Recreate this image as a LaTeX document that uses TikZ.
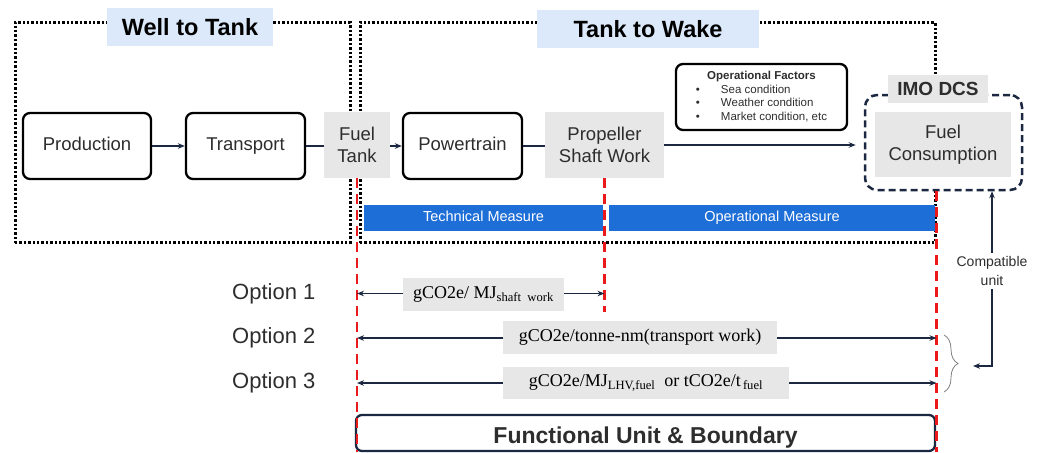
\documentclass[tikz,border=0pt]{standalone}
\usepackage{fontspec}
\setmainfont{Liberation Sans}
\newfontfamily\tms{Liberation Serif}
\usetikzlibrary{arrows.meta,decorations.pathreplacing}

\definecolor{labelblue}{RGB}{219,233,250}
\definecolor{panelgrey}{RGB}{231,231,231}
\definecolor{barblue}{RGB}{30,110,215}
\definecolor{navy}{RGB}{28,40,66}
\definecolor{cutred}{RGB}{235,25,25}
\definecolor{textgrey}{RGB}{45,45,45}

\begin{document}
\begin{tikzpicture}[x=1pt,y=-1pt,
  zonebox/.style={draw=black, line width=3pt, dash pattern=on 2.4pt off 2pt, inner sep=0pt},
  stagelabel/.style={fill=labelblue, font=\bfseries\fontsize{23.5}{26}\selectfont, minimum height=38pt, inner sep=0pt},
  procbox/.style={draw=black, line width=2.3pt, rounded corners=7pt, minimum height=66pt, align=center,
                  font=\fontsize{18.5}{22}\selectfont, text=textgrey, inner sep=0pt,
                  text height=13.5pt, text depth=4pt},
  greybox/.style={fill=panelgrey, align=center, inner sep=0pt, font=\fontsize{18.5}{22}\selectfont, text=textgrey},
  link/.style={draw=navy, line width=1.2pt},
  arr/.style={link, -{Stealth[length=7pt,width=5.5pt]}},
  biarr/.style={link, {Stealth[length=7pt,width=5.5pt]}-{Stealth[length=7pt,width=5.5pt]}},
  cut/.style={draw=cutred, line width=2.6pt, dash pattern=on 10pt off 6pt},
  measure/.style={fill=barblue, text=white, font=\fontsize{14.5}{16}\selectfont, minimum height=26pt, inner sep=0pt,
                  text height=10.5pt, text depth=3pt},
  unitlabel/.style={fill=panelgrey, font=\tms\fontsize{18}{20}\selectfont, inner sep=0pt, text=black},
  opt/.style={font=\fontsize{22}{24}\selectfont, text=textgrey, inner sep=0pt},
  brace/.style={draw=gray, line width=0.8pt, decorate, decoration={brace, amplitude=14pt}},
]
\useasboundingbox (0,0) rectangle (1043,452);

% life-cycle stages
\node[zonebox, minimum width=335pt, minimum height=220pt] (wtt) at (182.5,132.5) {};
\node[zonebox, minimum width=575pt, minimum height=220pt] (ttw) at (647.5,132.5) {};
\node[stagelabel, minimum width=166pt] (wttlab) at (190,27) {Well to Tank};
\node[stagelabel, minimum width=222pt] (ttwlab) at (648,29) {Tank to Wake};

% reporting scheme
\node[draw=navy, fill=white, line width=2.5pt, dash pattern=on 7pt off 4pt, rounded corners=12pt,
      minimum width=157pt, minimum height=95pt, inner sep=0pt] (imo) at (943.5,142.5) {};
\node[fill=panelgrey, font=\bfseries\fontsize{19}{22}\selectfont, text=textgrey,
      minimum width=100pt, minimum height=28pt, inner sep=0pt] (imolab) at (938,89) {IMO DCS};
\node[greybox, minimum width=136pt, minimum height=65pt] (fcons) at (943,144.5) {Fuel\\Consumption};

% process chain
\node[procbox, minimum width=128pt] (prod) at (87,146) {Production};
\node[procbox, minimum width=119pt] (trans) at (245.5,146) {Transport};
\node[greybox, minimum width=66pt, minimum height=66pt] (ftank) at (357,145) {Fuel\\Tank};
\node[procbox, minimum width=119pt] (ptrain) at (462.5,146) {Powertrain};
\node[greybox, minimum width=119pt, minimum height=66pt] (prop) at (604.5,145) {Propeller\\Shaft Work};

\node[draw=black, line width=2.3pt, rounded corners=7pt, minimum width=171pt, minimum height=66pt,
      inner sep=0pt, text=textgrey, font=\fontsize{11.5}{14.5}\selectfont] (opf) at (761.5,97)
  {\begin{tabular}{@{}l@{\hspace{21pt}}l@{}}
     \multicolumn{2}{c}{\bfseries Operational Factors}\\[-1pt]
     \textbullet & Sea condition\\[-1pt]
     \textbullet & Weather condition\\[-1pt]
     \textbullet & Market condition, etc
   \end{tabular}};

\draw[arr] (prod.east) -- (trans.west);
\draw[link] (trans.east) -- (trans.east -| ftank.west);
\draw[arr] (ftank.east |- ptrain.west) -- (ptrain.west);
\draw[link] (ptrain.east) -- (ptrain.east -| prop.west);
\draw[arr, shorten >=8pt] (prop.east) -- (prop.east -| imo.west);

% measures
\node[measure, minimum width=239pt] (tech) at (483.5,218) {Technical Measure};
\node[measure, minimum width=326pt] (oper) at (772,218) {Operational Measure};

% functional unit frame
\node[draw=navy, line width=2.3pt, rounded corners=6pt, minimum width=579pt, minimum height=36pt,
      inner sep=0pt, font=\bfseries\fontsize{23}{25}\selectfont, text=textgrey,
      text height=16.5pt, text depth=0pt] (fu) at (645.5,433)
  {\raisebox{-2pt}{Functional Unit \& Boundary}};

% boundaries
\draw[cut] (ftank.south) -- (ftank.south |- fu.south);
\draw[cut] (prop.south) -- ++(0,134);
\draw[cut] (ttw.east |- imo.south) -- (ttw.east |- fu.south);

% options
\node[opt, anchor=west] (opt1) at (232,293.5) {Option 1};
\node[opt, anchor=west] (opt2) at (232,338) {Option 2};
\node[opt, anchor=west] (opt3) at (232,383) {Option 3};

\draw[biarr] (ftank.south |- opt1) -- (prop.south |- opt1);
\draw[biarr] (ftank.south |- opt2) -- (ttw.east |- opt2);
\draw[biarr] (ftank.south |- opt3) -- (ttw.east |- opt3);

\node[unitlabel, minimum width=161pt, minimum height=33pt] (u1) at (483.5,294.5)
  {gCO2e/ MJ\textsubscript{shaft\ \ work}};
\node[unitlabel, minimum width=274pt, minimum height=33pt] (u2) at (640,337.5)
  {gCO2e/tonne-nm(transport work)};
\node[unitlabel, minimum width=286pt, minimum height=32pt] (u3) at (646,383)
  {gCO2e/MJ\textsubscript{LHV,fuel}\ \ or tCO2e/t\textsubscript{\,fuel}};

% compatible unit
\coordinate (brTop) at (944,335);
\coordinate (brBot) at (944,392);
\coordinate (brTip) at (973,366);
\draw[brace] (brTop) -- (brBot);
\node[align=center, font=\fontsize{14}{19}\selectfont, text=textgrey, inner sep=3pt] (cu) at (992,271)
  {Compatible\\unit};
\draw[arr] (cu.north) -- (cu.north |- imo.south);
\draw[arr] (cu.south) |- (brTip);
\end{tikzpicture}
\end{document}
